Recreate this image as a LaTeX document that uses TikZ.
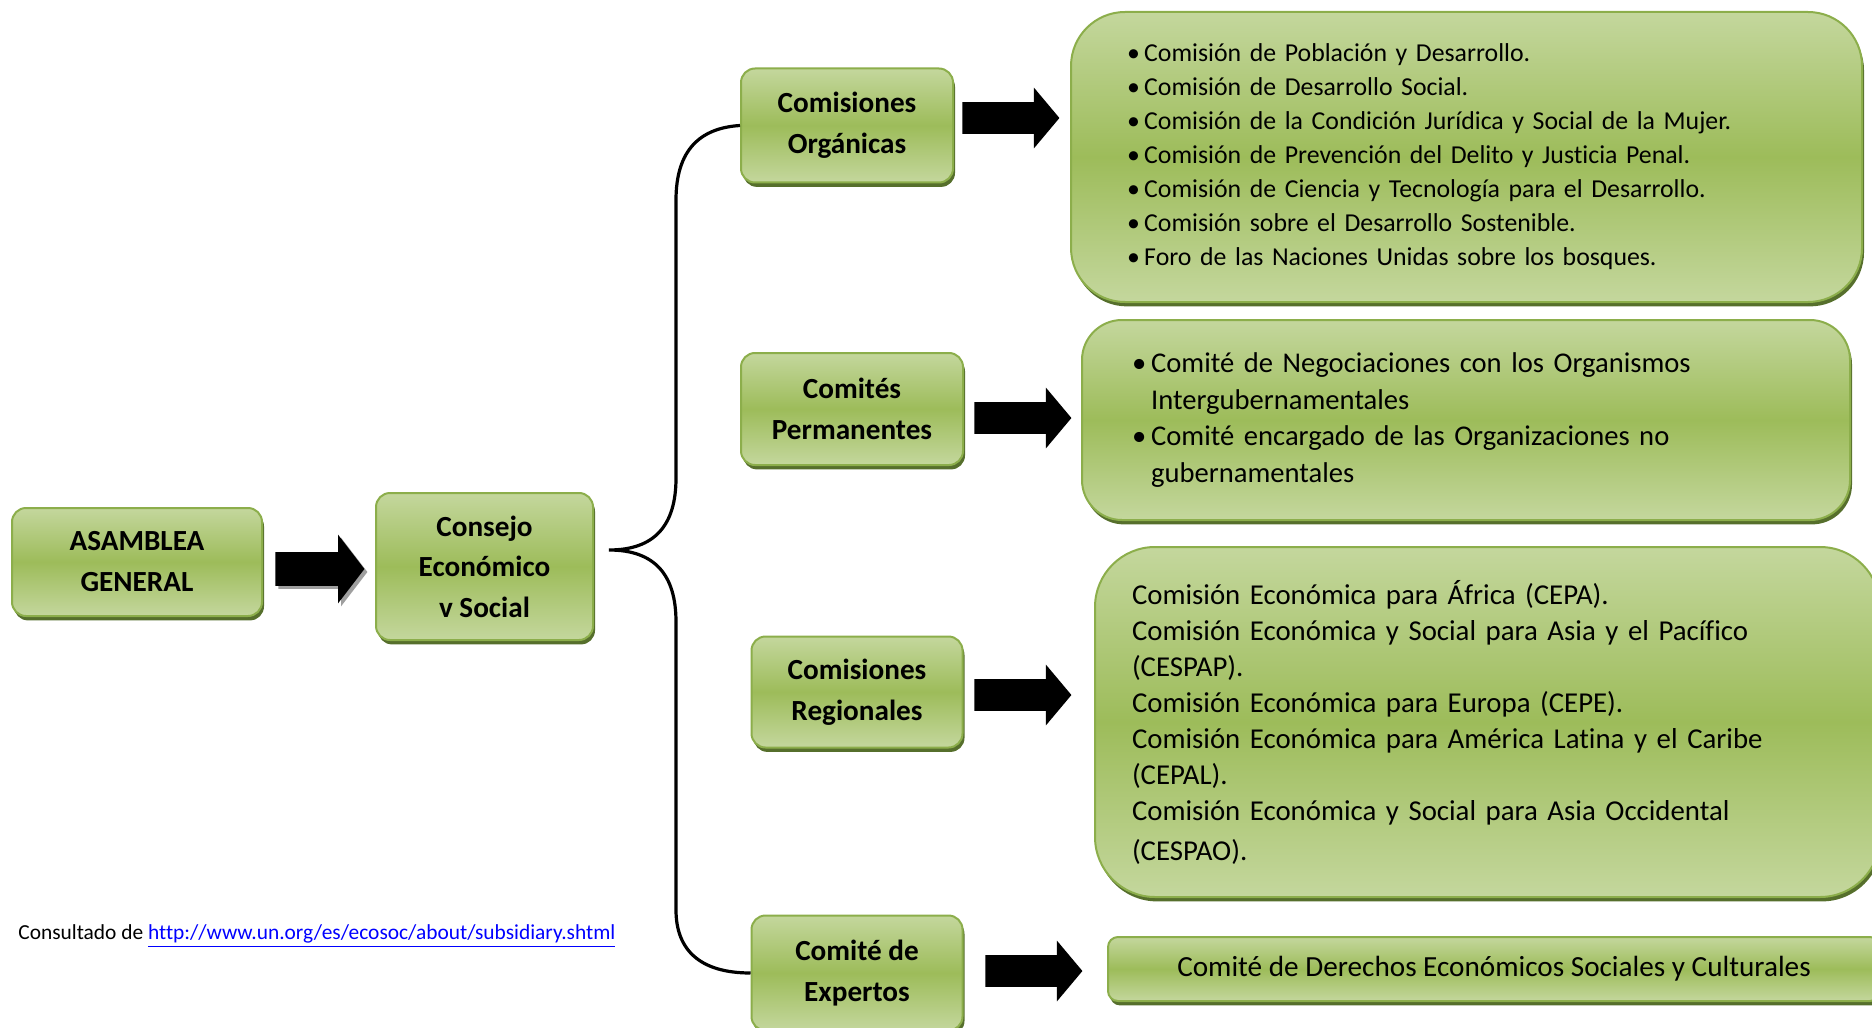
\documentclass[tikz,border=0pt]{standalone}
\usepackage{fontspec}
\setmainfont{Carlito}[Ligatures=NoCommon]
\usetikzlibrary{shapes.arrows,shadows}
\definecolor{gl}{HTML}{C4D79D}
\definecolor{gm}{HTML}{9DBC5A}
\definecolor{gb}{HTML}{8CAE4B}
\definecolor{gs}{HTML}{566F2C}
\definecolor{linkblue}{HTML}{0000FF}
\newcommand{\bul}{•\hspace{0.17em}}
\tikzset{
  gbox/.style={rounded corners=#1, draw=gb, line width=1pt, top color=gl, bottom color=gl, middle color=gm,
    drop shadow={shadow xshift=1pt, shadow yshift=-2.2pt, fill=gs, opacity=1}, inner ysep=0pt},
  smallbox/.style={gbox=7pt, font=\fontsize{14.6}{20.5}\selectfont\bfseries, align=center, inner xsep=0pt},
  barrow/.style={single arrow, fill=black, draw=none, inner xsep=0pt, inner ysep=7.75pt, anchor=tail,
    minimum height=48.5pt, minimum width=30pt, single arrow head extend=7.25pt, single arrow tip angle=100},
  brace/.style={line width=1.6pt, black},
  listtext/.style={align=left, font=\fontsize{14.3}{18.3}\selectfont}
}
\begin{document}
\begin{tikzpicture}[x=0.5pt,y=-0.5pt]
\useasboundingbox (0,0) rectangle (1872,1027);
\clip (0,0) rectangle (1872,1027);

% left column
\node[smallbox, minimum width=125pt, minimum height=54pt] (ag) at (137,562) {ASAMBLEA\\GENERAL};
\node[smallbox, minimum width=108.5pt, minimum height=73.5pt, font=\fontsize{14.6}{20.3}\selectfont\bfseries] (cs) at (484.5,566.5) {Consejo\\Económico\\v Social};

% middle column
\node[smallbox, minimum width=106pt, minimum height=57pt] (co) at (847,125.5) {Comisiones\\Orgánicas};
\node[smallbox, minimum width=111pt, minimum height=56pt] (cp) at (852,409) {Comités\\Permanentes};
\node[smallbox, minimum width=105.5pt, minimum height=55.5pt] (cr) at (857,692) {Comisiones\\Regionales};
\node[smallbox, minimum width=105.5pt, minimum height=57.5pt] (ce) at (857,973) {Comité de\\Expertos};

% right column
\node[gbox=27pt, listtext, font=\fontsize{12.9}{17}\selectfont, inner xsep=28pt, text width=339.5pt, minimum height=145pt] (b1) at (1466.5,157) {%
\bul Comisión de Población y Desarrollo.\\
\bul Comisión de Desarrollo Social.\\
\bul Comisión de la Condición Jurídica y Social de la Mujer.\\
\bul Comisión de Prevención del Delito y Justicia Penal.\\
\bul Comisión de Ciencia y Tecnología para el Desarrollo.\\
\bul Comisión sobre el Desarrollo Sostenible.\\
\bul Foro de las Naciones Unidas sobre los bosques.};

\node[gbox=20pt, listtext, inner xsep=25pt, text width=334pt, minimum height=100pt] (b2) at (1466,420) {%
\bul Comité de Negociaciones con los Organismos\\
\hphantom{\bul}Intergubernamentales\\
\bul Comité encargado de las Organizaciones no\\
\hphantom{\bul}gubernamentales};

\node[gbox=30pt, listtext, font=\fontsize{14.4}{18}\selectfont, inner xsep=18.5pt, text width=355.5pt, minimum height=175pt] (b3) at (1487.5,722) {%
Comisión Económica para África (CEPA).\\
Comisión Económica y Social para Asia y el Pacífico\\
(CESPAP).\\
Comisión Económica para Europa (CEPE).\\
Comisión Económica para América Latina y el Caribe\\
(CEPAL).\\
Comisión Económica y Social para Asia Occidental\\[2pt]
(CESPAO).};

\node[gbox=5pt, font=\fontsize{14.6}{18}\selectfont, minimum width=386pt, minimum height=32pt, inner xsep=0pt] (b4) at (1494,969) {Comité de Derechos Económicos Sociales y Culturales};

% block arrows
\node[barrow, minimum height=44.5pt, minimum width=34pt, inner ysep=8.25pt, single arrow head extend=8.75pt, single arrow tip angle=105,
  drop shadow={shadow xshift=1.5pt, shadow yshift=-1.5pt, fill=gray!75, opacity=1}] (a1) at (275,569) {};
\node[barrow] (a2) at (962,118) {};
\node[barrow] (a3) at (974,418) {};
\node[barrow] (a4) at (974,695) {};
\node[barrow] (a5) at (985,971) {};

% brace
\coordinate (tip) at (609,550);
\draw[brace] (co.west) .. controls (700,128) and (676,150) .. (676,200) -- (676,478)
  .. controls (676,525) and (655,550) .. (tip)
  .. controls (655,550) and (676,575) .. (676,622) -- (676,910)
  .. controls (676,950) and (700,973) .. (ce.west);

% source
\node[anchor=west, inner sep=0pt, font=\fontsize{10.7}{13}\selectfont] (src) at (18,936)
  {Consultado de \textcolor{linkblue}{\underline{http://www.un.org/es/ecosoc/about/subsidiary.shtml}}};
\end{tikzpicture}
\end{document}
